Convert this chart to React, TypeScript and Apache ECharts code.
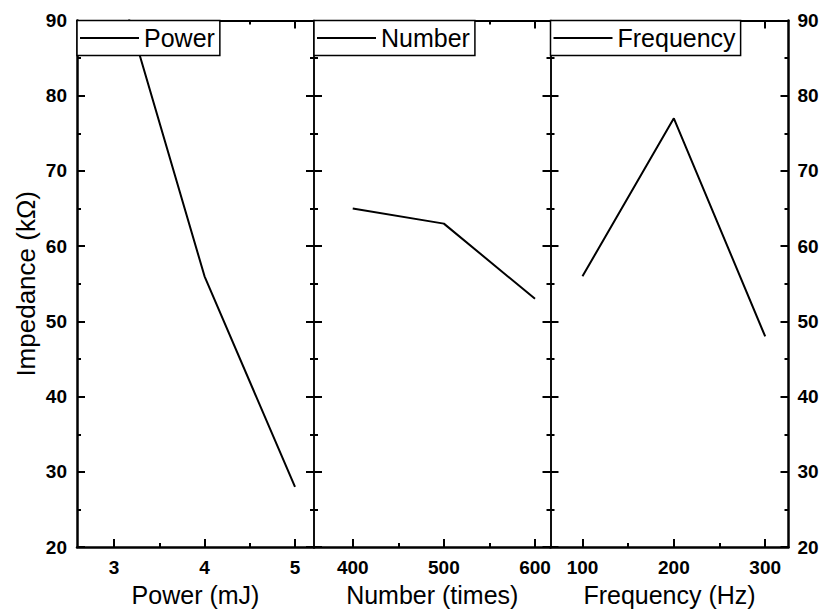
import React, { useEffect, useRef } from "react";
import * as echarts from "echarts";

// ---- data ----
const powerX = [3, 4, 5];
const powerY = [97, 56, 28];
const numberX = [400, 500, 600];
const numberY = [65, 63, 53];
const freqX = [100, 200, 300];
const freqY = [56, 77, 48];

const powerTicks = [3, 4, 5];
const powerMinor = [3.5, 4.5];
const numberTicks = [400, 500, 600];
const numberMinor = [450, 550];
const freqTicks = [100, 200, 300];
const freqMinor = [150, 250];

const seriesNames = ["Power", "Number", "Frequency"];
const xNames = ["Power (mJ)", "Number (times)", "Frequency (Hz)"];
const yName = "Impedance (kΩ)";
const yMin = 20;
const yMax = 90;
const yInterval = 10;

// ---- layout ----
const FONT = "'Liberation Sans', Arial, Helvetica, sans-serif";
const TOP = 20.5;
const HEIGHT = 528.5;
const panels = [
  { left: 77, width: 237, min: 2.59, max: 5.21 },
  { left: 314, width: 236.5, min: 357.5, max: 617 },
  { left: 550.5, width: 238, min: 65, max: 325.5 },
];

export default function App() {
  const ref = useRef<HTMLDivElement>(null);

  useEffect(() => {
    if (!ref.current) return;
    const chart = echarts.init(ref.current, undefined, { renderer: "svg" });

    const data = [
      { xs: powerX, ys: powerY, ticks: powerTicks, minor: powerMinor },
      { xs: numberX, ys: numberY, ticks: numberTicks, minor: numberMinor },
      { xs: freqX, ys: freqY, ticks: freqTicks, minor: freqMinor },
    ];

    const grids: any[] = [];
    const xAxes: any[] = [];
    const yAxes: any[] = [];
    const series: any[] = [];
    const legends: any[] = [];

    panels.forEach((p, g) => {
      const d = data[g];
      grids.push({ left: p.left, top: TOP, width: p.width, height: HEIGHT, containLabel: false });
      const outerLeft = g === 0;
      const outerRight = g === 2;
      const baseX = {
        type: "value",
        gridIndex: g,
        min: p.min,
        max: p.max,
        splitLine: { show: false },
        axisLine: { onZero: false, show: false },
        axisLabel: { show: false },
      };
      // bottom major
      xAxes.push({
        ...baseX,
        position: "bottom",
        name: xNames[g],
        nameLocation: "middle",
        nameGap: 33,
        nameTextStyle: { fontSize: 25, color: "#000", fontFamily: FONT },
        axisLine: { show: true, onZero: false, lineStyle: { color: "#000", width: 2.5 } },
        axisTick: {
          show: true,
          inside: true,
          length: 8,
          customValues: d.ticks,
          lineStyle: { color: "#000", width: 2 },
        },
        axisLabel: {
          show: true,
          customValues: d.ticks,
          margin: 11,
          fontSize: 19,
          fontWeight: "bold",
          color: "#000",
          fontFamily: FONT,
        },
      });
      // bottom minor
      xAxes.push({
        ...baseX,
        position: "bottom",
        axisTick: {
          show: true,
          inside: true,
          length: 4,
          customValues: d.minor,
          lineStyle: { color: "#000", width: 2 },
        },
      });
      // top major
      xAxes.push({
        ...baseX,
        position: "top",
        axisLine: { show: true, onZero: false, lineStyle: { color: "#000", width: 2 } },
        axisTick: {
          show: true,
          inside: true,
          length: 8,
          customValues: d.ticks,
          lineStyle: { color: "#000", width: 2 },
        },
      });
      // top minor
      xAxes.push({
        ...baseX,
        position: "top",
        axisTick: {
          show: true,
          inside: true,
          length: 4,
          customValues: d.minor,
          lineStyle: { color: "#000", width: 2 },
        },
      });

      const baseY = {
        type: "value",
        gridIndex: g,
        min: yMin,
        max: yMax,
        interval: yInterval,
        splitLine: { show: false },
        axisTick: { show: true, inside: true, length: 8, lineStyle: { color: "#000", width: 2 } },
        minorTick: { show: true, splitNumber: 2, length: 4, lineStyle: { color: "#000", width: 2 } },
        minorSplitLine: { show: false },
      };
      yAxes.push({
        ...baseY,
        position: "left",
        axisLine: { show: true, onZero: false, lineStyle: { color: "#000", width: outerLeft ? 2.5 : 1.5 } },
        axisLabel: {
          show: outerLeft,
          margin: 10,
          fontSize: 19,
          fontWeight: "bold",
          color: "#000",
          fontFamily: FONT,
        },
        name: outerLeft ? yName : "",
        nameLocation: "middle",
        nameGap: 38,
        nameTextStyle: { fontSize: 26, color: "#000", fontFamily: FONT },
      });
      yAxes.push({
        ...baseY,
        position: "right",
        axisLine: { show: true, onZero: false, lineStyle: { color: "#000", width: outerRight ? 2.5 : 1.5 } },
        axisLabel: {
          show: outerRight,
          margin: 9,
          fontSize: 19,
          fontWeight: "bold",
          color: "#000",
          fontFamily: FONT,
        },
      });

      series.push({
        type: "line",
        name: seriesNames[g],
        xAxisIndex: g * 4,
        yAxisIndex: g * 2,
        data: d.xs.map((x, i) => [x, d.ys[i]]),
        symbol: "none",
        clip: true,
        z: 2,
        lineStyle: { color: "#000", width: 2 },
        itemStyle: { color: "#000" },
      });

      legends.push({
        data: [{ name: seriesNames[g], icon: "rect" }],
        left: p.left,
        top: TOP,
        z: 20,
        orient: "horizontal",
        padding: [5, 5, 5, 3],
        itemWidth: 59,
        itemHeight: 2,
        backgroundColor: "#fff",
        borderColor: "#000",
        borderWidth: 1.5,
        borderRadius: 0,
        selectedMode: false,
        itemStyle: { color: "#000", borderWidth: 0 },
        lineStyle: { width: 0, opacity: 0 },
        textStyle: { fontSize: 25, color: "#000", fontFamily: FONT },
      });
    });

    chart.setOption({
      animation: false,
      backgroundColor: "#fff",
      grid: grids,
      xAxis: xAxes,
      yAxis: yAxes,
      legend: legends,
      series,
    });

    return () => {
      chart.dispose();
    };
  }, []);

  return (
    <div
      ref={ref}
      style={{ position: "fixed", left: 0, top: 0, width: 822, height: 612, background: "#fff" }}
    />
  );
}
